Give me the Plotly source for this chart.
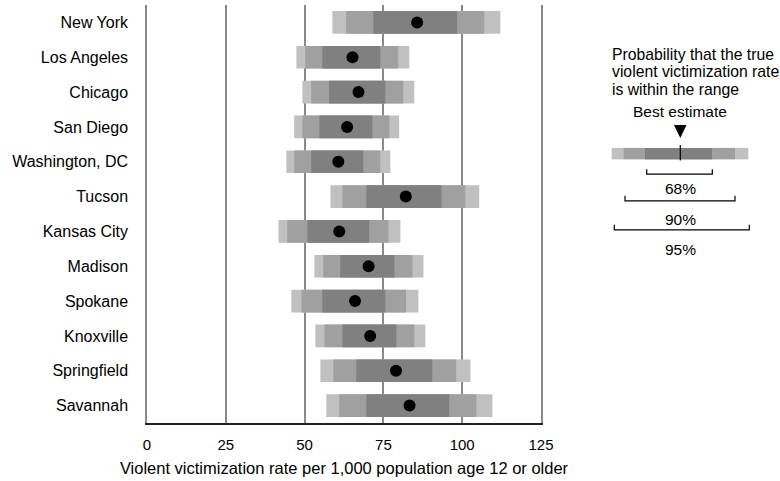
import plotly.graph_objects as go

cities = ["New York", "Los Angeles", "Chicago", "San Diego", "Washington, DC", "Tucson",
          "Kansas City", "Madison", "Spokane", "Knoxville", "Springfield", "Savannah"]
estimate = [85.7, 65.2, 67.1, 63.5, 60.7, 82.1, 61.0, 70.3, 66.0, 70.8, 79.0, 83.3]
lo95 = [58.8, 47.4, 49.3, 46.7, 44.2, 58.2, 41.7, 53.1, 45.8, 53.4, 55.0, 56.9]
hi95 = [112.1, 83.2, 84.8, 80.0, 77.2, 105.4, 80.4, 87.7, 86.1, 88.3, 102.6, 109.6]
lo90 = [63.2, 50.2, 52.1, 49.3, 46.7, 62.0, 44.5, 55.9, 49.0, 56.3, 59.1, 61.0]
hi90 = [107.0, 79.7, 81.3, 76.9, 74.0, 101.0, 76.6, 84.2, 82.2, 84.8, 98.1, 104.5]
lo68 = [71.8, 55.6, 57.8, 54.7, 52.1, 69.6, 50.9, 61.3, 55.6, 62.0, 66.4, 69.6]
hi68 = [98.4, 74.0, 75.6, 71.5, 68.6, 93.4, 70.5, 78.5, 75.6, 79.1, 90.5, 95.9]
x_ticks = [0, 25, 50, 75, 100, 125]

C95, C90, C68 = "#c0c0c0", "#a0a0a0", "#808080"
FONT = "Liberation Sans, Arial, sans-serif"

fig = go.Figure()
for lo, hi, col in [(lo95, hi95, C95), (lo90, hi90, C90), (lo68, hi68, C68)]:
    fig.add_trace(go.Bar(y=cities, x=[h - l for l, h in zip(lo, hi)], base=lo,
                         orientation="h", width=0.65, marker=dict(color=col, line=dict(width=0)),
                         showlegend=False, hoverinfo="skip"))
fig.add_trace(go.Scatter(x=estimate, y=cities, mode="markers",
                         marker=dict(color="black", size=12), showlegend=False))

W_PLOT = 780 - 147
d = 394 / W_PLOT
fig.update_layout(
    width=780, height=481, barmode="overlay",
    margin=dict(l=147, r=0, t=5, b=58),
    plot_bgcolor="white", paper_bgcolor="white",
    font=dict(family=FONT, size=15, color="black"),
    xaxis=dict(domain=[0, d], range=[0, 125], tickvals=x_ticks, showgrid=True,
               gridcolor="#8a8a8a", gridwidth=1.5, zeroline=False, showline=True,
               linecolor="#222222", linewidth=2, ticks="", ticklabelstandoff=7,
               automargin=False, tickfont=dict(size=15),
               title=dict(text="Violent victimization rate per 1,000 population age 12 or older",
                          standoff=10, font=dict(size=16.5)),
               fixedrange=True),
    yaxis=dict(categoryorder="array", categoryarray=cities, range=[len(cities) - 0.5, -0.5],
               showgrid=False, zeroline=False, showline=True, mirror=True,
               linecolor="#8a8a8a", linewidth=1.5, ticks="", automargin=False,
               ticklabelstandoff=14, tickfont=dict(size=16)),
    xaxis2=dict(domain=[d, 1], range=[541, 780], visible=False, anchor="y2"),
    yaxis2=dict(domain=[0, 1], range=[423.3, 5], visible=False, anchor="x2"),
)

# Legend (drawn illustration in pixel-like coordinates of its own axes)
shapes = []
segs = [(611.7, 623.3, C95), (623.3, 645, C90), (645, 712.7, C68),
        (712.7, 735, C90), (735, 748.3, C95)]
for x0, x1, c in segs:
    shapes.append(dict(type="rect", xref="x2", yref="y2", x0=x0, x1=x1, y0=148, y1=159.5,
                       fillcolor=c, line=dict(width=0)))
shapes.append(dict(type="line", xref="x2", yref="y2", x0=680.3, x1=680.3, y0=145, y1=160.7,
                   line=dict(color="black", width=1.2)))
shapes.append(dict(type="path", xref="x2", yref="y2", path="M 674 125 L 686.5 125 L 680.3 138 Z",
                   fillcolor="black", line=dict(width=0)))
for x0, x1, yb in [(646.7, 712.3, 174.3), (625, 735, 201), (614.3, 749.3, 230)]:
    shapes.append(dict(type="path", xref="x2", yref="y2",
                       path=f"M {x0} {yb-5} L {x0} {yb} L {x1} {yb} L {x1} {yb-5}",
                       line=dict(color="black", width=1.2)))
fig.update_layout(shapes=shapes)

ann = []
for txt, y in [("Probability that the true", 55), ("violent victimization rate", 72),
               ("is within the range", 89.5)]:
    ann.append(dict(xref="x2", yref="y2", x=610, y=y, text=txt, showarrow=False,
                    xanchor="left", yanchor="middle", font=dict(size=15.75)))
for txt, y in [("Best estimate", 112), ("68%", 188.5), ("90%", 220), ("95%", 250)]:
    ann.append(dict(xref="x2", yref="y2", x=680.3, y=y, text=txt, showarrow=False,
                    xanchor="center", yanchor="middle", font=dict(size=15.5)))
fig.update_layout(annotations=ann)

fig.write_html("out.html", config={"displayModeBar": False},
               post_script="document.body.style.margin='0';")
